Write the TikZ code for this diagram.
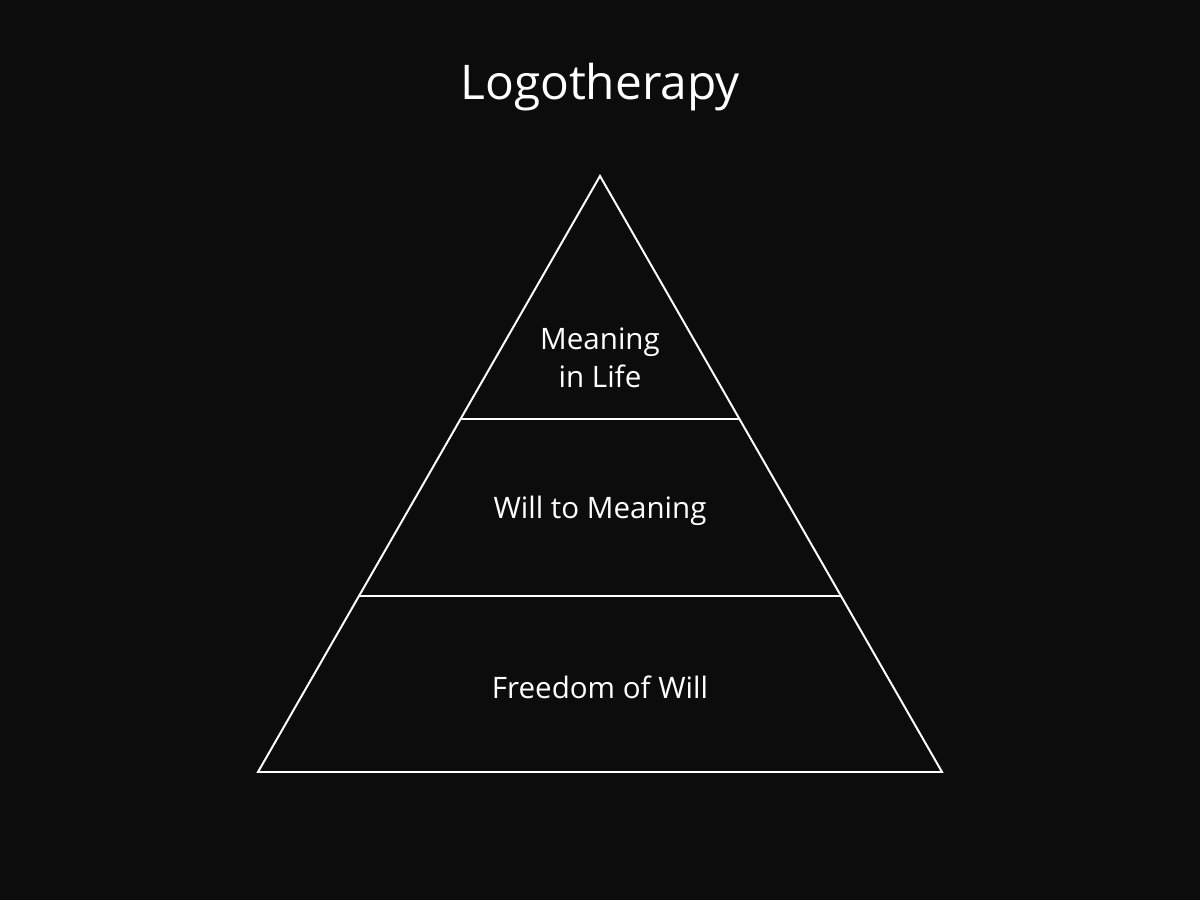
\documentclass[tikz,border=0pt]{standalone}
\usepackage{fontspec}
\setmainfont{Open Sans}
\usetikzlibrary{positioning,calc}
\definecolor{bgdark}{HTML}{0C0C0C}
\tikzset{
    edgeline/.style={
        draw=white,line width=1.4pt,line join=miter
    },
    tierline/.style={
        draw=white,line width=1.1pt
    },
    tierlabel/.style={
        text=white,font=\fontsize{21}{27}\selectfont,align=center
    },
    titlenode/.style={
        text=white,font=\fontsize{34}{40}\selectfont
    }
}

\begin{document}
\begin{tikzpicture}[x=0.025cm,y=-0.025cm]
\fill[bgdark] (0,0) rectangle (1200,900);
\useasboundingbox (0,0) rectangle (1200,900);
\coordinate (apex) at (600,176);
\coordinate (bl) at (258,772);
\coordinate (br) at (942,772);
\coordinate (t1l) at ($(apex)!0.4077!(bl)$);
\coordinate (t1r) at ($(apex)!0.4077!(br)$);
\coordinate (t2l) at ($(apex)!0.7047!(bl)$);
\coordinate (t2r) at ($(apex)!0.7047!(br)$);
\node[titlenode] (title) at (600,87) {Logotherapy};
\draw[edgeline] (apex) -- (br) -- (bl) -- cycle;
\draw[tierline] (t1l) -- (t1r);
\draw[tierline] (t2l) -- (t2r);
\node[tierlabel] (top) at (600,358) {Meaning\\in Life};
\node[tierlabel] (mid) at (600,511) {Will to Meaning};
\node[tierlabel] (base) at (600,687) {Freedom of Will};
\end{tikzpicture}
\end{document}
